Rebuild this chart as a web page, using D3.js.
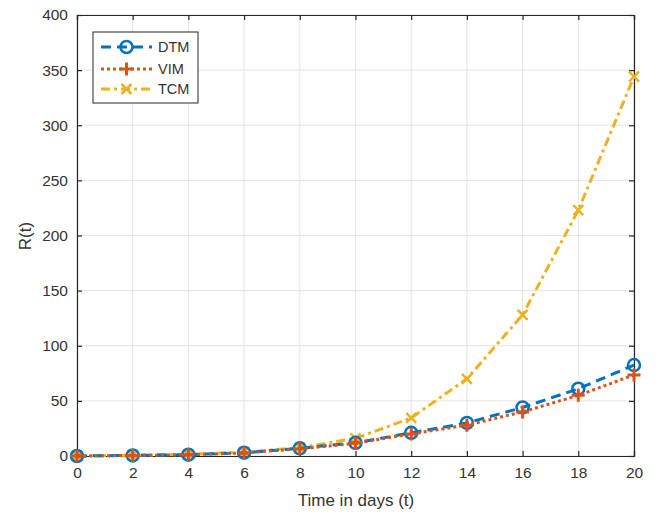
<!DOCTYPE html>
<html><head><meta charset="utf-8">
<script src="https://cdn.jsdelivr.net/npm/d3@7"></script>
<style>body{margin:0;background:#fff}svg{display:block}text{font-family:"Liberation Sans",Arial,sans-serif}</style>
</head><body>
<svg id="c" width="662" height="519"></svg>
<script>
const tDays = [0,2,4,6,8,10,12,14,16,18,20];
const dtm = [0,0.5,1.2,3,7,12,21,30,44,61,82.5];
const vim = [0,0.5,1.1,2.8,6.5,11.5,20,28,40,55,73.5];
const tcm = [0,0.7,1.5,3.5,7.5,16,34.5,70,128,223,344];
const xTicks = [0,2,4,6,8,10,12,14,16,18,20];
const yTicks = [0,50,100,150,200,250,300,350,400];
const seriesNames = ["DTM","VIM","TCM"];

const svg = d3.select("#c");
const L=77,R=634,T=15,B=456;
const x = d3.scaleLinear().domain([0,20]).range([L,R]);
const y = d3.scaleLinear().domain([0,400]).range([B,T]);

const g = svg.append("g");
g.selectAll("line.vx").data(xTicks).join("line").attr("x1",d=>x(d)).attr("x2",d=>x(d)).attr("y1",T).attr("y2",B).attr("stroke","#e3e3e3").attr("stroke-width",1);
g.selectAll("line.hy").data(yTicks).join("line").attr("y1",d=>y(d)).attr("y2",d=>y(d)).attr("x1",L).attr("x2",R).attr("stroke","#e3e3e3").attr("stroke-width",1);

const axisColor="#262626";
const tick=5;
const xb = svg.append("g").attr("transform",`translate(0,${B})`).call(d3.axisBottom(x).tickValues(xTicks).tickSize(-tick).tickPadding(11).tickFormat(d3.format("d")));
const xt = svg.append("g").attr("transform",`translate(0,${T})`).call(d3.axisTop(x).tickValues(xTicks).tickSize(-tick).tickFormat(""));
const yl = svg.append("g").attr("transform",`translate(${L},0)`).call(d3.axisLeft(y).tickValues(yTicks).tickSize(-tick).tickPadding(9).tickFormat(d3.format("d")));
const yr = svg.append("g").attr("transform",`translate(${R},0)`).call(d3.axisRight(y).tickValues(yTicks).tickSize(-tick).tickFormat(""));
[xb,xt,yl,yr].forEach(a=>{
  a.select(".domain").attr("stroke",axisColor).attr("stroke-width",1.2);
  a.selectAll(".tick line").attr("stroke",axisColor).attr("stroke-width",1.2);
  a.selectAll("text").attr("font-size",15.5).attr("fill","#333").attr("font-family","Liberation Sans, Arial, sans-serif");
});

svg.append("text").attr("x",356).attr("y",506).attr("text-anchor","middle").attr("font-size",17).attr("fill","#333").text("Time in days (t)");
svg.append("text").attr("transform","translate(31,236) rotate(-90)").attr("text-anchor","middle").attr("font-size",17).attr("fill","#333").text("R(t)");

const colors = ["#0072BD","#D95319","#EDB120"];
const dashes = ["10,6","3,3","9,4,3,4"];
const data = [dtm,vim,tcm];
const line = d3.line().x((d,i)=>x(tDays[i])).y(d=>y(d));

function marker(sel,k,cx,cy){
  const c=colors[k];
  if(k===0){
    sel.append("circle").attr("cx",cx).attr("cy",cy).attr("r",6).attr("fill","none").attr("stroke",c).attr("stroke-width",2.5);
  } else if(k===1){
    const s=6.5;
    sel.append("path").attr("d",`M${cx-s},${cy}H${cx+s}M${cx},${cy-s}V${cy+s}`).attr("stroke",c).attr("stroke-width",3);
  } else {
    const s=5;
    sel.append("path").attr("d",`M${cx-s},${cy-s}L${cx+s},${cy+s}M${cx-s},${cy+s}L${cx+s},${cy-s}`).attr("stroke",c).attr("stroke-width",2.5);
  }
}

[2,0,1].forEach(k=>{
  const gg = svg.append("g");
  gg.append("path").datum(data[k]).attr("d",line).attr("fill","none").attr("stroke",colors[k]).attr("stroke-width",3).attr("stroke-dasharray",dashes[k]);
  data[k].forEach((v,i)=>marker(gg,k,x(tDays[i]),y(v)));
});

const lg = svg.append("g");
lg.append("rect").attr("x",93).attr("y",32).attr("width",105).attr("height",71).attr("fill","#fff").attr("stroke","#262626").attr("stroke-width",1);
const ly=[47,69,89];
seriesNames.forEach((n,k)=>{
  lg.append("line").attr("x1",101).attr("x2",152).attr("y1",ly[k]).attr("y2",ly[k]).attr("stroke",colors[k]).attr("stroke-width",3).attr("stroke-dasharray",dashes[k]);
  marker(lg,k,126.5,ly[k]);
  lg.append("text").attr("x",158).attr("y",ly[k]+5).attr("font-size",14.5).attr("fill","#333").text(n);
});
</script>
</body></html>
